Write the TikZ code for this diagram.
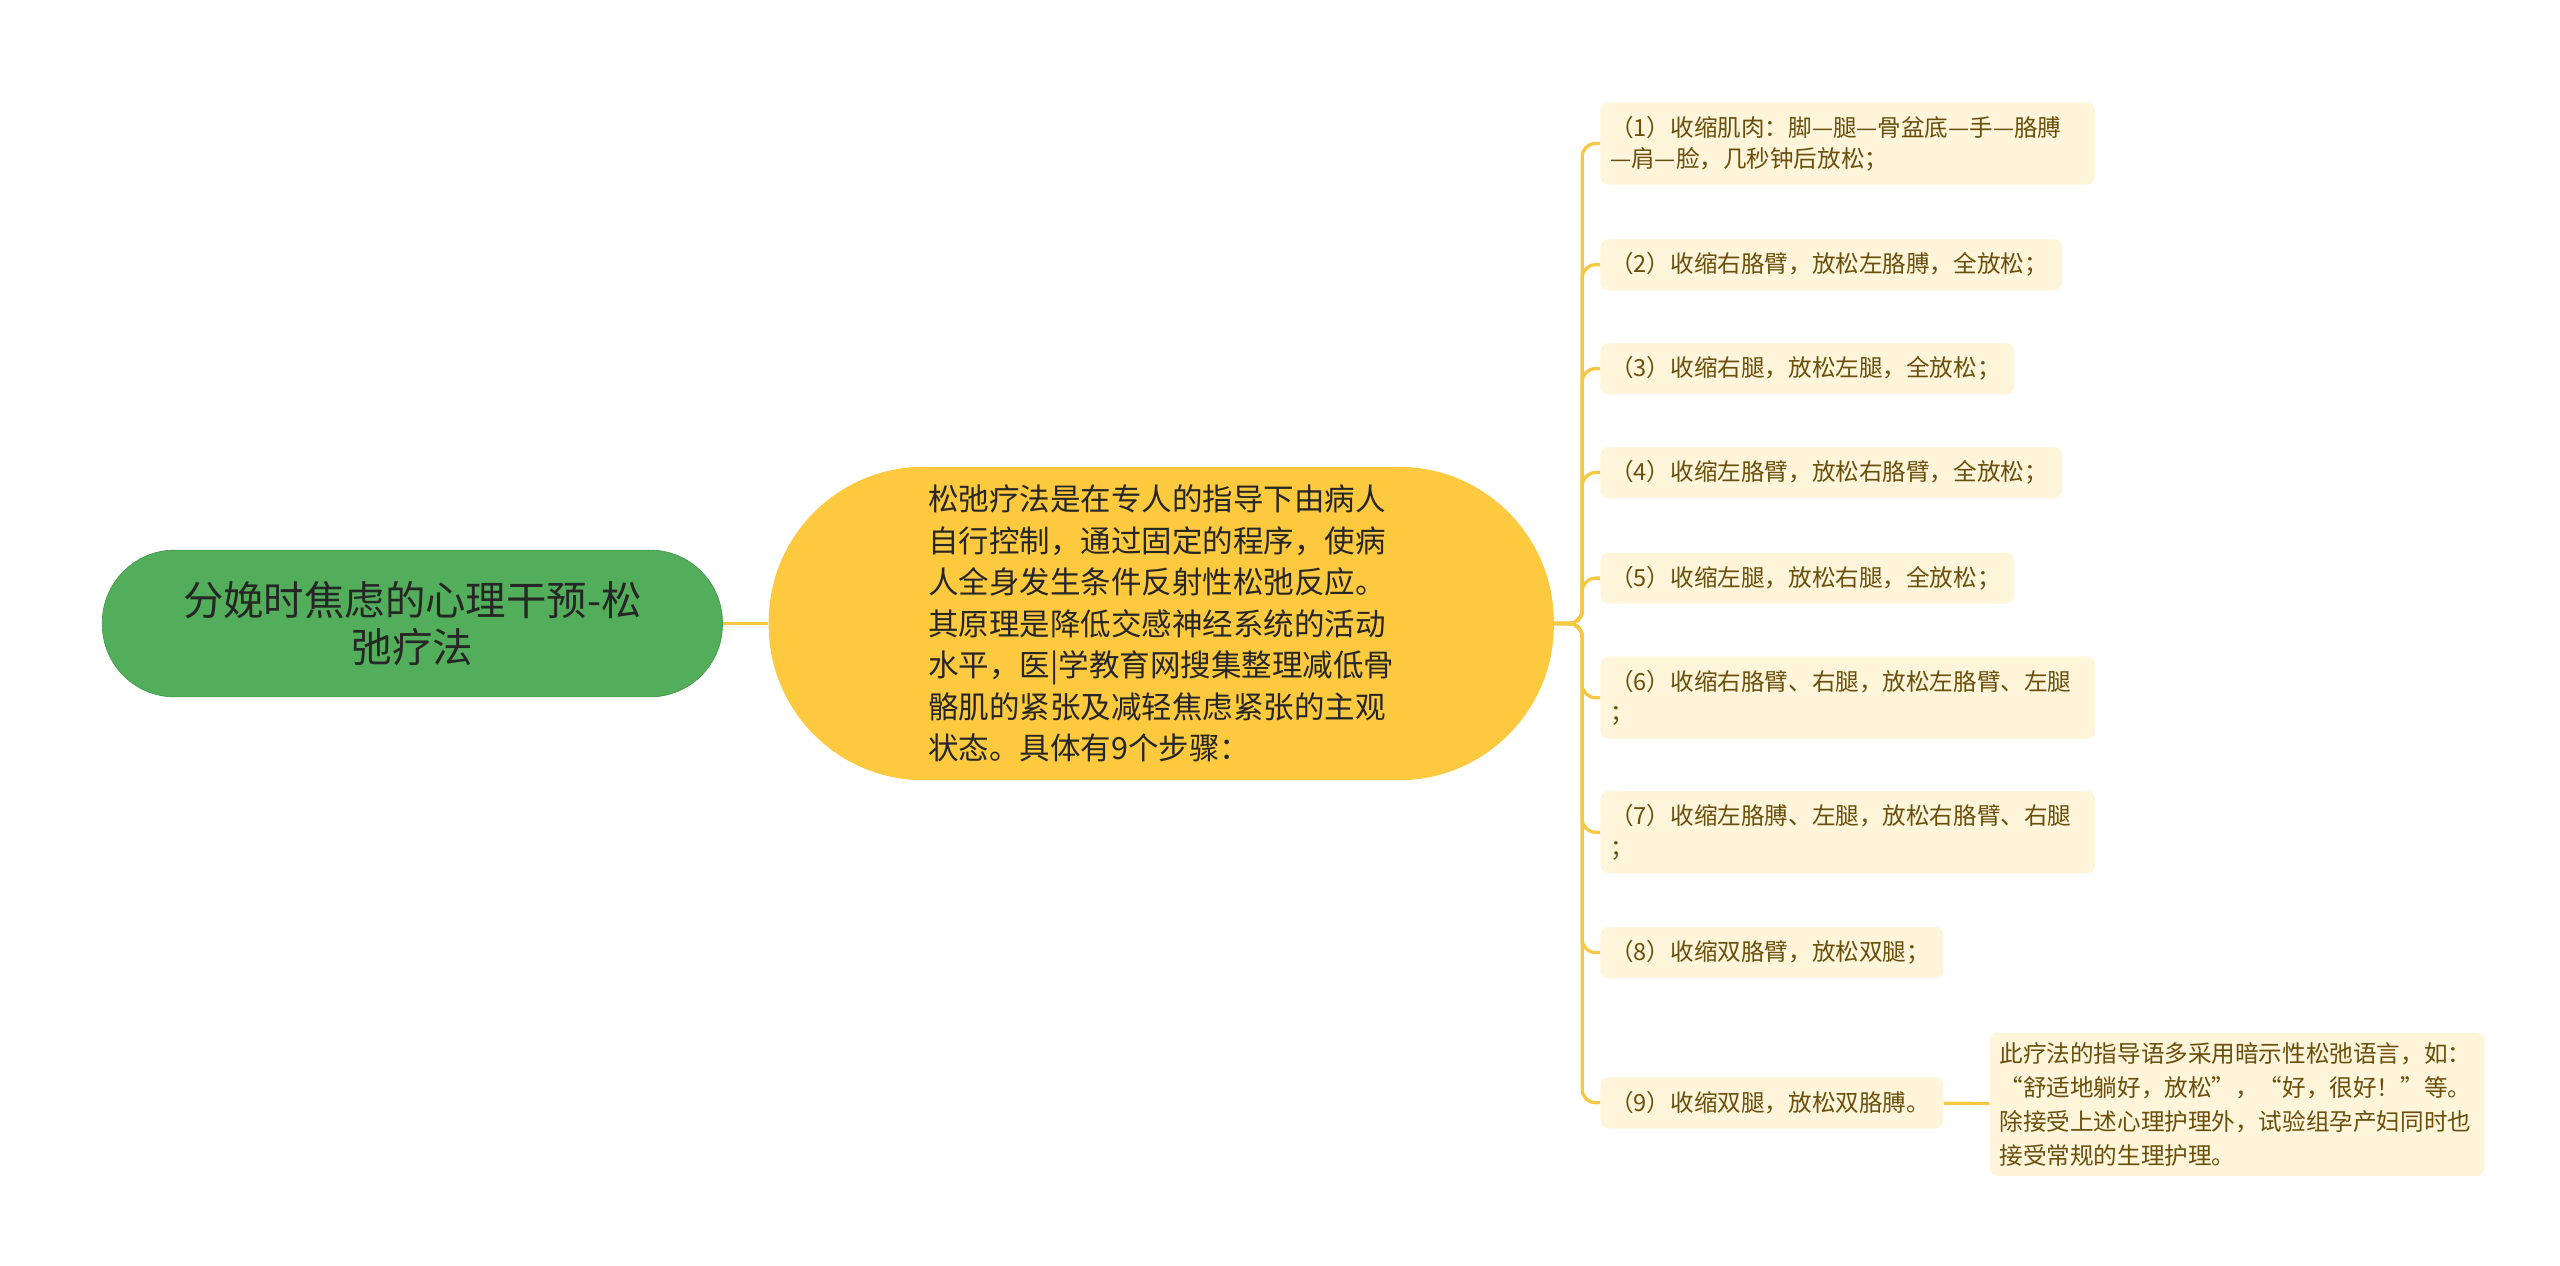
\documentclass[tikz,border=0pt]{standalone}
\usepackage{fontspec}
\setmainfont{Noto Sans CJK SC}
\definecolor{rootgreen}{HTML}{52AE5A}
\definecolor{rootline}{HTML}{3F9A48}
\definecolor{midyellow}{HTML}{FDC93F}
\definecolor{leafcream}{HTML}{FEF5DA}
\definecolor{leaftext}{HTML}{6A4F0C}
\definecolor{linkyellow}{HTML}{F5C844}
\tikzset{
  rootbox/.style={draw=rootline, fill=rootgreen, rounded corners=44pt, minimum width=376pt, minimum height=89pt, align=center, font=\fontsize{24.5}{29}\selectfont, text=black!85},
  midbox/.style={fill=midyellow, rounded corners=94pt, minimum width=476pt, minimum height=190pt, align=left, font=\fontsize{18.5}{25.2}\selectfont, text=black!85},
  leafbox/.style={fill=leafcream, rounded corners=5pt, anchor=west, align=left, inner xsep=6pt, text width=#1, font=\fontsize{14.3}{19}\selectfont, text=leaftext, minimum height=31pt},
  link/.style={draw=linkyellow, line width=2pt},
}
\begin{document}
\begin{tikzpicture}[x=1pt,y=-1pt]
			\useasboundingbox (0,0) rectangle (1552,767);
			\node	(root) at (250,378) [rootbox] {分娩时焦虑的心理干预-松\\弛疗法};
			\node	(mid) at (704,378) [midbox] {松弛疗法是在专人的指导下由病人\\自行控制，通过固定的程序，使病\\人全身发生条件反射性松弛反应。\\其原理是降低交感神经系统的活动\\水平，医|学教育网搜集整理减低骨\\骼肌的紧张及减轻焦虑紧张的主观\\状态。具体有9个步骤：};
			\node	(s1) at (970,87) [leafbox=288pt, minimum height=50pt] {（1）收缩肌肉：脚—腿—骨盆底—手—胳膊\\—肩—脸，几秒钟后放松；};
			\node	(s2) at (970,160.5) [leafbox=268pt] {（2）收缩右胳臂，放松左胳膊，全放松；};
			\node	(s3) at (970,223.5) [leafbox=239pt] {（3）收缩右腿，放松左腿，全放松；};
			\node	(s4) at (970,286.5) [leafbox=268pt] {（4）收缩左胳臂，放松右胳臂，全放松；};
			\node	(s5) at (970,350.5) [leafbox=239pt] {（5）收缩左腿，放松右腿，全放松；};
			\node	(s6) at (970,423) [leafbox=288pt, minimum height=50pt] {（6）收缩右胳臂、右腿，放松左胳臂、左腿\\；};
			\node	(s7) at (970,504.5) [leafbox=288pt, minimum height=50pt] {（7）收缩左胳膊、左腿，放松右胳臂、右腿\\；};
			\node	(s8) at (970,577.5) [leafbox=196pt] {（8）收缩双胳臂，放松双腿；};
			\node	(s9) at (970,668.5) [leafbox=196pt] {（9）收缩双腿，放松双胳膊。};
			\node	(note) at (1206,669.5) [leafbox=288pt, font=\fontsize{14.3}{20.5}\selectfont, minimum height=87pt] {此疗法的指导语多采用暗示性松弛语言，如：\\“舒适地躺好，放松”，“好，很好！”等。\\除接受上述心理护理外，试验组孕产妇同时也\\接受常规的生理护理。};
			\draw[link] (root) -- (mid);
			\foreach \s in {s1,s2,s3,s4,s5,s6,s7,s8,s9}
				\draw[link, rounded corners=8pt] (mid.east) -- ++(17,0) |- (\s.west);
			\draw[link] (s9) -- (note);
		\end{tikzpicture}
\end{document}
